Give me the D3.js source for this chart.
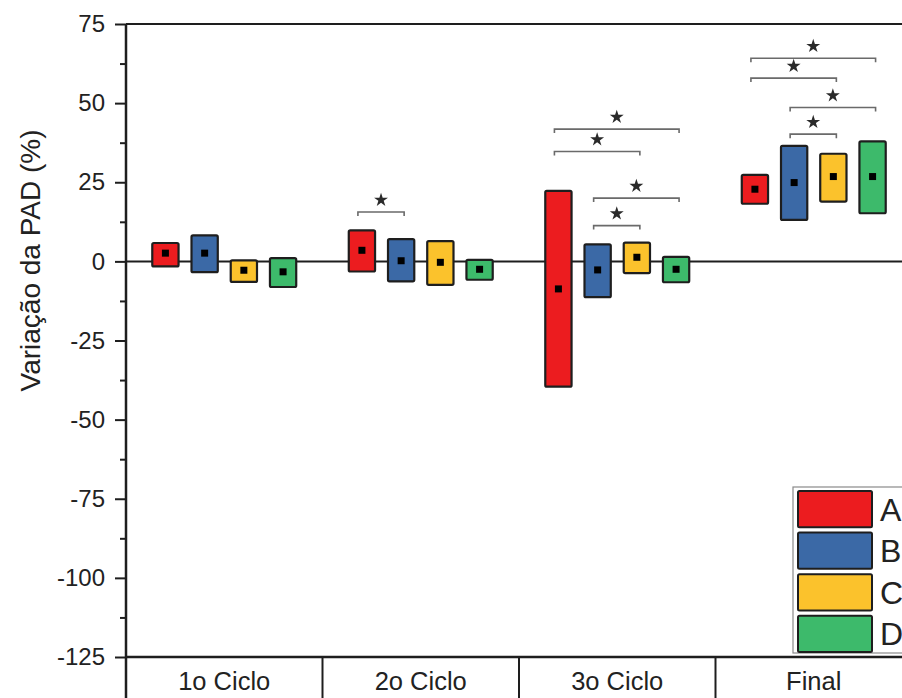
<!DOCTYPE html>
<html>
<head>
<meta charset="utf-8">
<script src="https://cdn.jsdelivr.net/npm/d3@7"></script>
<style>
  html, body { margin: 0; padding: 0; background: #fff; }
  svg { display: block; font-family: "Liberation Sans", Arial, sans-serif; }
</style>
</head>
<body>
<svg id="chart" width="902" height="698"></svg>
<script>
// Ciclos avaliados e grupos
const categories = ["1o Ciclo", "2o Ciclo", "3o Ciclo", "Final"];
const groups = ["A", "B", "C", "D"];
const groupColors = ["#ec1c1f", "#3b69a6", "#fbc22c", "#3dba6b"];

// Variação da PAD (%) por grupo: limite superior, limite inferior e média
const upperA = [5.8, 9.8, 22.3, 27.3];
const lowerA = [-1.6, -3.2, -39.6, 18.2];
const meanA  = [2.6, 3.5, -8.7, 22.8];

const upperB = [8.2, 7.0, 5.4, 36.5];
const lowerB = [-3.4, -6.3, -11.3, 13.1];
const meanB  = [2.6, 0.2, -2.7, 24.9];

const upperC = [0.3, 6.4, 5.9, 34.0];
const lowerC = [-6.5, -7.4, -3.7, 18.9];
const meanC  = [-2.8, -0.3, 1.3, 26.8];

const upperD = [1.0, 0.5, 1.4, 37.9];
const lowerD = [-8.1, -5.8, -6.6, 15.2];
const meanD  = [-3.3, -2.5, -2.5, 26.8];

// Comparações significativas (*): ciclo, grupos comparados, altura do colchete
const sigCategory = ["2o Ciclo", "3o Ciclo", "3o Ciclo", "3o Ciclo", "3o Ciclo", "Final", "Final", "Final", "Final"];
const sigFrom     = ["A", "A", "A", "B", "B", "A", "A", "B", "B"];
const sigTo       = ["B", "D", "C", "D", "C", "D", "C", "D", "C"];
const sigLevel    = [15.6, 41.8, 34.7, 20.0, 11.3, 64.2, 57.9, 48.6, 40.2];

// Ticks do eixo Y
const yMajorTicks = [-125, -100, -75, -50, -25, 0, 25, 50, 75];
const yMinorTicks = [-112.5, -87.5, -62.5, -37.5, -12.5, 12.5, 37.5, 62.5];

const upper = [upperA, upperB, upperC, upperD];
const lower = [lowerA, lowerB, lowerC, lowerD];
const means = [meanA, meanB, meanC, meanD];

const records = [];
groups.forEach((g, gi) => {
  categories.forEach((c, ci) => {
    records.push({ cat: c, group: g, color: groupColors[gi],
                   hi: upper[gi][ci], lo: lower[gi][ci], mean: means[gi][ci] });
  });
});

const svg = d3.select("#chart");
const plotLeft = 126, plotRight = 912, plotTop = 24, plotBottom = 657;
const ink = "#1e1e1e";

const x = d3.scaleBand().domain(categories).range([plotLeft, plotRight]);
const xi = d3.scaleBand().domain(groups).range([0, x.bandwidth()])
  .paddingInner(0.33).paddingOuter(0.67);
const y = d3.scaleLinear().domain([-125, 75]).range([plotBottom, plotTop]);

// Eixo Y com ticks maiores e menores
const yAxis = svg.append("g").attr("transform", `translate(${plotLeft},0)`)
  .call(d3.axisLeft(y).tickValues(yMajorTicks).tickSize(11).tickPadding(10)
    .tickFormat(d => String(d)));
yAxis.select(".domain").remove();
yAxis.selectAll("line").attr("stroke", ink).attr("stroke-width", 2);
yAxis.selectAll("text").attr("font-size", 24).attr("fill", "#222")
  .attr("font-family", "Liberation Sans, Arial, sans-serif");

const yMinor = svg.append("g").attr("transform", `translate(${plotLeft},0)`)
  .call(d3.axisLeft(y).tickValues(yMinorTicks).tickSize(6).tickFormat(""));
yMinor.select(".domain").remove();
yMinor.selectAll("line").attr("stroke", ink).attr("stroke-width", 2);

// Moldura: linha superior, eixo vertical e linha inferior
svg.append("line").attr("x1", plotLeft).attr("x2", 902).attr("y1", y(75)).attr("y2", y(75))
  .attr("stroke", ink).attr("stroke-width", 2);
svg.append("line").attr("x1", plotLeft).attr("x2", plotLeft).attr("y1", y(75)).attr("y2", 698)
  .attr("stroke", ink).attr("stroke-width", 2.5);
svg.append("line").attr("x1", plotLeft).attr("x2", 902).attr("y1", y(-125)).attr("y2", y(-125))
  .attr("stroke", ink).attr("stroke-width", 2.5);

// Faixa de categorias abaixo do eixo
const catBounds = categories.slice(1).map(c => x(c));
svg.append("g").selectAll("line").data(catBounds).join("line")
  .attr("x1", d => d).attr("x2", d => d).attr("y1", y(-125)).attr("y2", 698)
  .attr("stroke", ink).attr("stroke-width", 2);
svg.append("g").selectAll("text").data(categories).join("text")
  .attr("x", d => x(d) + x.bandwidth() / 2).attr("y", 690)
  .attr("text-anchor", "middle").attr("font-size", 25.5).attr("fill", "#222")
  .text(d => d);

// Linha do zero
svg.append("line").attr("x1", plotLeft).attr("x2", 902).attr("y1", y(0)).attr("y2", y(0))
  .attr("stroke", ink).attr("stroke-width", 2);

// Caixas flutuantes (mínimo-máximo) e média
const boxes = svg.append("g");
boxes.selectAll("rect.box").data(records).join("rect")
  .attr("class", "box")
  .attr("x", d => x(d.cat) + xi(d.group))
  .attr("width", xi.bandwidth())
  .attr("y", d => y(d.hi))
  .attr("height", d => y(d.lo) - y(d.hi))
  .attr("rx", 1.5)
  .attr("fill", d => d.color)
  .attr("stroke", ink).attr("stroke-width", 2.2);

const ms = 7;
boxes.selectAll("rect.mean").data(records).join("rect")
  .attr("class", "mean")
  .attr("x", d => x(d.cat) + xi(d.group) + xi.bandwidth() / 2 - ms / 2)
  .attr("y", d => y(d.mean) - ms / 2)
  .attr("width", ms).attr("height", ms)
  .attr("fill", "#000");

// Colchetes de significância
const sig = sigCategory.map((c, i) => ({
  x1: x(c) + xi(sigFrom[i]) + xi.bandwidth() / 2 - 4,
  x2: x(c) + xi(sigTo[i]) + xi.bandwidth() / 2 + 3,
  yl: y(sigLevel[i])
}));
const brackets = svg.append("g").attr("fill", "none").attr("stroke", "#6a6a6a").attr("stroke-width", 1.6);
brackets.selectAll("path").data(sig).join("path")
  .attr("d", d => `M${d.x1},${d.yl + 4}V${d.yl}H${d.x2}V${d.yl + 4}`);
const star = d3.symbol().type(d3.symbolStar).size(60);
svg.append("g").selectAll("path").data(sig).join("path")
  .attr("d", star)
  .attr("transform", d => `translate(${(d.x1 + d.x2) / 2},${d.yl - 12})`)
  .attr("fill", "#2a2a2a");

// Legenda
const lg = svg.append("g");
lg.append("rect").attr("x", 793).attr("y", 487).attr("width", 140).attr("height", 166)
  .attr("fill", "#fff").attr("stroke", "#8a8a8a").attr("stroke-width", 1.2);
const ly = d3.scaleBand().domain(groups).range([491, 652]).paddingInner(0.13);
lg.selectAll("rect.sw").data(groups).join("rect")
  .attr("class", "sw")
  .attr("x", 798).attr("width", 74)
  .attr("y", d => ly(d)).attr("height", ly.bandwidth())
  .attr("rx", 1.5)
  .attr("fill", (d, i) => groupColors[i]).attr("stroke", ink).attr("stroke-width", 2);
lg.selectAll("text").data(groups).join("text")
  .attr("x", 880).attr("y", d => ly(d) + ly.bandwidth() / 2 + 11.5)
  .attr("font-size", 32).attr("fill", "#222")
  .text(d => d);

// Título do eixo Y
svg.append("text")
  .attr("transform", `translate(40,${(plotTop + plotBottom) / 2 - 80}) rotate(-90)`)
  .attr("text-anchor", "middle").attr("font-size", 28).attr("fill", "#222")
  .text("Variação da PAD (%)");
</script>
</body>
</html>
